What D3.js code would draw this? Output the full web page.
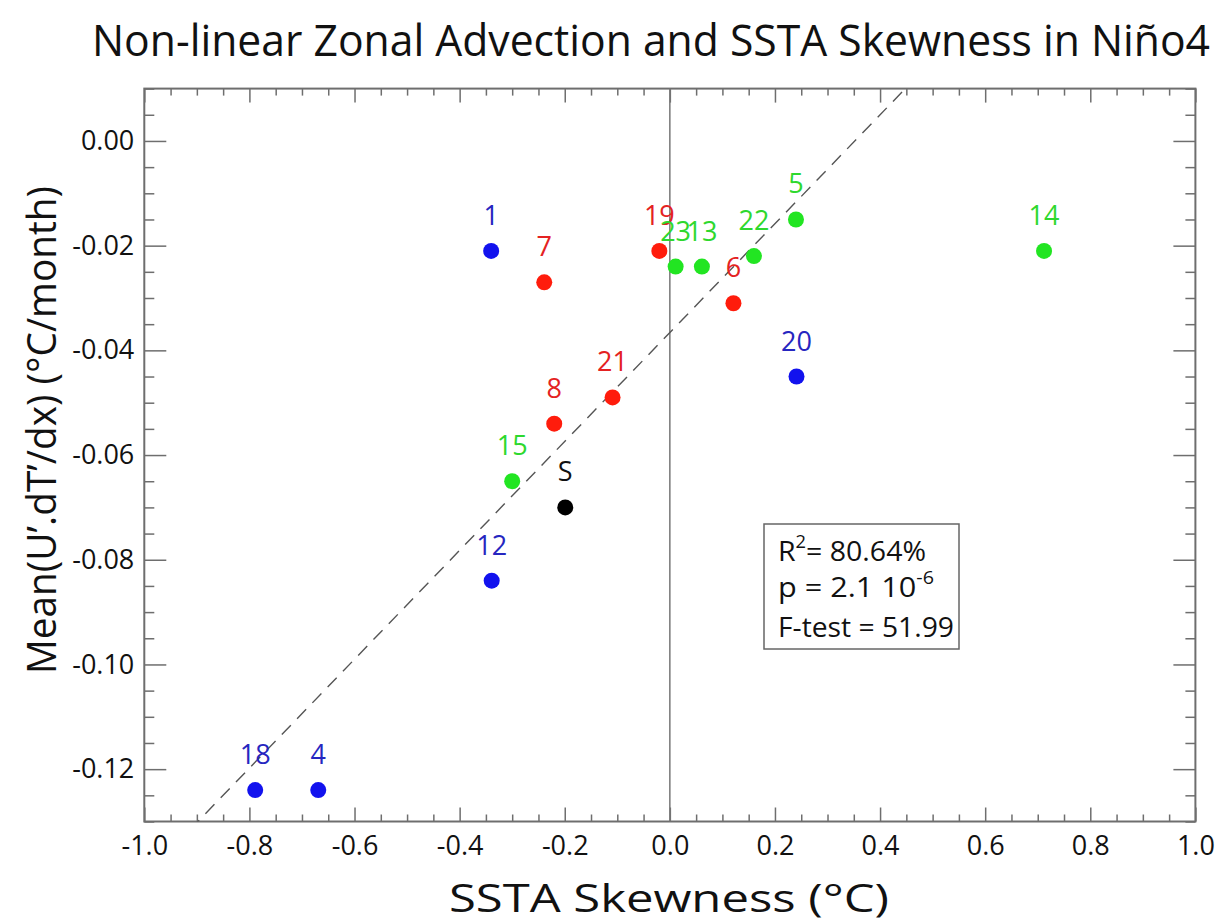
<!DOCTYPE html>
<html><head><meta charset="utf-8">
<script src="https://cdn.jsdelivr.net/npm/d3@7"></script>
<style>body{margin:0;background:#fff}svg{display:block}text{font-family:"Open Sans",sans-serif}</style>
</head><body>
<script>
// ---- data ----
const pointLabels = ["1","7","19","23","13","22","5","14","6","20","21","8","15","S","12","18","4"];
const skewness   = [-0.34,-0.239,-0.020,0.011,0.061,0.160,0.240,0.712,0.121,0.241,-0.109,-0.220,-0.300,-0.199,-0.339,-0.789,-0.669];
const advection  = [-0.021,-0.027,-0.021,-0.024,-0.024,-0.022,-0.015,-0.021,-0.031,-0.045,-0.049,-0.054,-0.065,-0.070,-0.084,-0.124,-0.124];
const groups     = ["b","r","r","g","g","g","g","g","r","b","r","r","g","k","b","b","b"];
const xTickValues = [-1.0,-0.8,-0.6,-0.4,-0.2,0.0,0.2,0.4,0.6,0.8,1.0];
const yTickValues = [0.00,-0.02,-0.04,-0.06,-0.08,-0.10,-0.12];
const fitSlope = 0.104, fitIntercept = -0.0366;
const statsLines = [["R","2","= 80.64%"],["p = 2.1 10","-6",""],["F-test = 51.99","",""]];

const W=1222,H=922;
const L=144.3,R=1195.4,T=88.6,B=821.5;
const pointColor={b:"#1212ee",r:"#ff1c0c",g:"#22e522",k:"#000"};
const textColor={b:"#2626c0",r:"#e42222",g:"#2ed82e",k:"#111"};
const axisColor="#6e6e6e";

const svg=d3.select("body").append("svg").attr("width",W).attr("height",H);
const x=d3.scaleLinear().domain([-1,1]).range([L,R]);
const y=d3.scaleLinear().domain([0.01,-0.13]).range([T,B]);

const minorX=d3.range(-1,1.0001,0.05).map(v=>+v.toFixed(2)).filter(v=>!xTickValues.some(t=>Math.abs(t-v)<1e-6));
const minorY=d3.range(0.01,-0.1301,-0.005).map(v=>+v.toFixed(3)).filter(v=>!yTickValues.some(t=>Math.abs(t-v)<1e-6));

function styleAxis(g){g.select(".domain").remove();g.selectAll("line").attr("stroke",axisColor).attr("stroke-width",1.5);
  g.selectAll("text").attr("fill","#111").style("font-size","27px").style("font-family","'Open Sans',sans-serif");}

svg.append("g").attr("transform",`translate(0,${B})`).call(d3.axisBottom(x).tickValues(xTickValues).tickSize(-14).tickSizeOuter(0).tickPadding(14).tickFormat(d3.format(".1f"))).call(styleAxis);
svg.append("g").attr("transform",`translate(0,${B})`).call(d3.axisBottom(x).tickValues(minorX).tickSize(-7).tickSizeOuter(0).tickFormat("")).call(styleAxis);
svg.append("g").attr("transform",`translate(0,${T})`).call(d3.axisTop(x).tickValues(xTickValues).tickSize(-14).tickSizeOuter(0).tickFormat("")).call(styleAxis);
svg.append("g").attr("transform",`translate(0,${T})`).call(d3.axisTop(x).tickValues(minorX).tickSize(-7).tickSizeOuter(0).tickFormat("")).call(styleAxis);
svg.append("g").attr("transform",`translate(${L},0)`).call(d3.axisLeft(y).tickValues(yTickValues).tickSize(-22).tickSizeOuter(0).tickPadding(10).tickFormat(d3.format(".2f"))).call(styleAxis);
svg.append("g").attr("transform",`translate(${L},0)`).call(d3.axisLeft(y).tickValues(minorY).tickSize(-10).tickSizeOuter(0).tickFormat("")).call(styleAxis);
svg.append("g").attr("transform",`translate(${R},0)`).call(d3.axisRight(y).tickValues(yTickValues).tickSize(-22).tickSizeOuter(0).tickFormat("")).call(styleAxis);
svg.append("g").attr("transform",`translate(${R},0)`).call(d3.axisRight(y).tickValues(minorY).tickSize(-10).tickSizeOuter(0).tickFormat("")).call(styleAxis);
svg.selectAll("g.tick text").text(function(){return d3.select(this).text().replace("−","-");});

svg.append("rect").attr("x",L).attr("y",T).attr("width",R-L).attr("height",B-T).attr("fill","none").attr("stroke",axisColor).attr("stroke-width",2);

// zero line
svg.append("line").attr("x1",x(0)).attr("x2",x(0)).attr("y1",T).attr("y2",B).attr("stroke","#777").attr("stroke-width",1.5);

// regression line, clipped
svg.append("clipPath").attr("id","clip").append("rect").attr("x",L).attr("y",T).attr("width",R-L).attr("height",B-T);
svg.append("line").attr("clip-path","url(#clip)")
  .attr("x1",x(-1)).attr("y1",y(fitIntercept+fitSlope*-1)).attr("x2",x(1)).attr("y2",y(fitIntercept+fitSlope*1))
  .attr("stroke","#555").attr("stroke-width",1.4).attr("stroke-dasharray","13,9");

// points
const data=pointLabels.map((l,i)=>({l,x:skewness[i],y:advection[i],g:groups[i]}));
svg.append("g").selectAll("circle").data(data).join("circle")
  .attr("cx",d=>x(d.x)).attr("cy",d=>y(d.y)).attr("r",8).attr("fill",d=>pointColor[d.g]);
svg.append("g").selectAll("text").data(data).join("text")
  .attr("x",d=>x(d.x)).attr("y",d=>y(d.y)-26).attr("text-anchor","middle")
  .style("font-size","27px").attr("fill",d=>textColor[d.g]).text(d=>d.l);

// stats box
svg.append("rect").attr("x",764).attr("y",524).attr("width",195).attr("height",125).attr("fill","#fff").attr("stroke","#666").attr("stroke-width",1.5);
const sb=[561,597,637];
const sbLen=[148,156,176];
statsLines.forEach((ln,i)=>{
  const t=svg.append("text").attr("x",778).attr("y",sb[i]).style("font-size","28px").attr("fill","#111");
  t.append("tspan").text(ln[0]);
  if(ln[1]){t.append("tspan").attr("dy",-13).style("font-size","18px").text(ln[1]);
    if(ln[2]) t.append("tspan").attr("dy",13).style("font-size","28px").text(ln[2]);}
  t.attr("textLength",sbLen[i]).attr("lengthAdjust","spacingAndGlyphs");
});

// titles
svg.append("g").attr("transform","translate(651,56) scale(1,1.08)")
  .append("text").attr("x",0).attr("y",0).attr("text-anchor","middle").style("font-size","41px").attr("fill","#111")
  .attr("textLength",1118).attr("lengthAdjust","spacingAndGlyphs").text("Non-linear Zonal Advection and SSTA Skewness in Niño4");
svg.append("text").attr("x",669).attr("y",912).attr("text-anchor","middle").style("font-size","38px").attr("fill","#111")
  .attr("textLength",440).attr("lengthAdjust","spacingAndGlyphs").text("SSTA Skewness (°C)");
svg.append("text").attr("transform","translate(56,430) rotate(-90)").attr("text-anchor","middle").style("font-size","41px").attr("fill","#111")
  .attr("textLength",488).attr("lengthAdjust","spacingAndGlyphs").text("Mean(U’.dT’/dx) (°C/month)");
</script>
</body></html>
